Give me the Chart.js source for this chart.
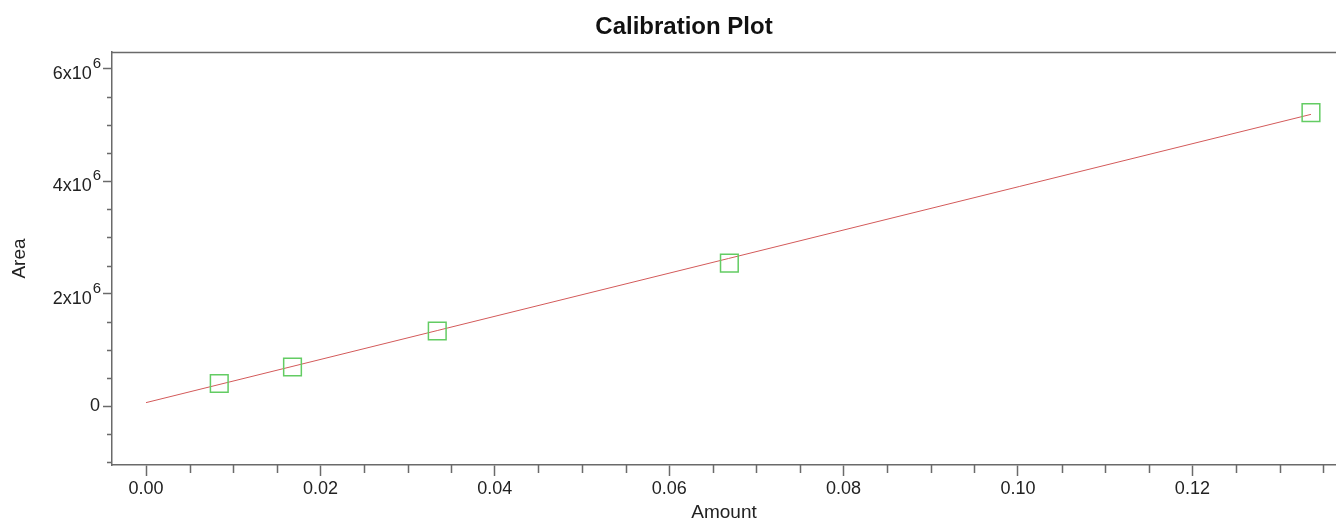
<!DOCTYPE html>
<html><head><meta charset="utf-8">
<script src="https://cdn.jsdelivr.net/npm/chart.js@4"></script>
<style>html,body{margin:0;padding:0;background:#fff}#wrap{width:1336px;height:520px;position:relative}</style>
</head><body><div id="wrap"><canvas id="c"></canvas></div>
<script>
// ---- data ----
const amounts = [0.0084, 0.0168, 0.0334, 0.0669, 0.1336];
const areas = [0.400e6, 0.694e6, 1.335e6, 2.544e6, 5.222e6];
const fitAmounts = [0, 0.1336];
const fitAreas = [0.06e6, 5.19e6];
const xTickValues = [0, 0.02, 0.04, 0.06, 0.08, 0.10, 0.12];
const xTickLabels = ['0.00', '0.02', '0.04', '0.06', '0.08', '0.10', '0.12'];
const yTickValues = [0, 2e6, 4e6, 6e6];
const yTickBase = ['0', '2x10', '4x10', '6x10'];
const yTickExp = ['', '6', '6', '6'];
const xMinorStep = 0.005;
const yMinorStep = 0.5e6;
const titleText = 'Calibration Plot';
const xTitle = 'Amount';
const yTitle = 'Area';

const FONT = "'Liberation Sans', Arial, sans-serif";
const AXIS = '#6a6a6a';
const TEXT = '#222';

const extras = {
  id: 'extras',
  afterDraw(chart) {
    const ctx = chart.ctx, a = chart.chartArea;
    const xs = chart.scales.x, ys = chart.scales.y;
    ctx.save();
    ctx.strokeStyle = AXIS;
    ctx.lineWidth = 1.5;
    // top frame line
    ctx.beginPath();
    ctx.moveTo(a.left, a.top + 0.5);
    ctx.lineTo(a.right, a.top + 0.5);
    ctx.stroke();
    // minor ticks x
    ctx.beginPath();
    for (let i = Math.ceil(xs.min / xMinorStep); i * xMinorStep <= xs.max + 1e-12; i++) {
      if (i % 4 === 0) continue;
      const px = Math.round(xs.getPixelForValue(i * xMinorStep)) + 0.5;
      ctx.moveTo(px, a.bottom);
      ctx.lineTo(px, a.bottom + 8);
    }
    // minor ticks y
    for (let i = Math.ceil(ys.min / yMinorStep); i * yMinorStep <= ys.max + 1; i++) {
      if (i % 4 === 0) continue;
      const py = Math.round(ys.getPixelForValue(i * yMinorStep)) + 0.5;
      ctx.moveTo(a.left, py);
      ctx.lineTo(a.left - 5, py);
    }
    ctx.stroke();
    // y tick labels with superscript exponent
    ctx.fillStyle = TEXT;
    ctx.textAlign = 'right';
    yTickValues.forEach((v, i) => {
      const py = ys.getPixelForValue(v);
      const right = a.left - 11;
      if (yTickExp[i]) {
        ctx.font = '15px ' + FONT;
        ctx.textBaseline = 'alphabetic';
        const w = ctx.measureText(yTickExp[i]).width;
        ctx.fillText(yTickExp[i], right, py - 1);
        ctx.font = '18px ' + FONT;
        ctx.fillText(yTickBase[i], right - w - 1, py + 10);
      } else {
        ctx.font = '18px ' + FONT;
        ctx.textBaseline = 'middle';
        ctx.fillText(yTickBase[i], a.left - 12, py);
      }
    });
    // title
    ctx.fillStyle = '#111';
    ctx.font = 'bold 24px ' + FONT;
    ctx.textAlign = 'center';
    ctx.textBaseline = 'middle';
    ctx.fillText(titleText, 684, 27);
    ctx.restore();
  }
};

new Chart(document.getElementById('c'), {
  type: 'scatter',
  data: {
    datasets: [
      {
        type: 'line',
        label: 'fit',
        data: fitAmounts.map((x, i) => ({x, y: fitAreas[i]})),
        borderColor: '#d35a5a',
        borderWidth: 1,
        pointRadius: 0,
        fill: false,
        order: 2
      },
      {
        label: 'standards',
        data: amounts.map((x, i) => ({x, y: areas[i]})),
        pointStyle: 'rect',
        pointRadius: 12.5,
        pointHoverRadius: 12.5,
        borderColor: '#63cc63',
        backgroundColor: 'rgba(0,0,0,0)',
        borderWidth: 1.5,
        order: 1
      }
    ]
  },
  options: {
    responsive: true,
    maintainAspectRatio: false,
    animation: false,
    layout: { autoPadding: false, padding: { top: 52, left: 0, right: 0, bottom: 0 } },
    plugins: { legend: { display: false }, tooltip: { enabled: false }, title: { display: false } },
    scales: {
      x: {
        type: 'linear',
        min: -0.0039,
        max: 0.13647,
        afterBuildTicks: s => { s.ticks = xTickValues.map(v => ({value: v})); },
        afterFit: s => { s.height = 55; },
        ticks: {
          includeBounds: false,
          autoSkip: false,
          maxRotation: 0,
          padding: 2,
          color: TEXT,
          font: { family: FONT, size: 18 },
          callback: (v, i) => xTickLabels[i]
        },
        grid: { drawOnChartArea: false, drawTicks: true, tickLength: 11, tickColor: AXIS, tickWidth: 1.5 },
        border: { display: true, color: AXIS, width: 1.5 },
        title: { display: true, text: xTitle, color: TEXT, font: { family: FONT, size: 19, lineHeight: 1 }, padding: { top: 0, bottom: -2 } }
      },
      y: {
        type: 'linear',
        min: -1.05e6,
        max: 6.3e6,
        afterBuildTicks: s => { s.ticks = yTickValues.map(v => ({value: v})); },
        afterFit: s => { s.width = 112; },
        ticks: {
          display: false,
          includeBounds: false,
          autoSkip: false
        },
        grid: { drawOnChartArea: false, drawTicks: true, tickLength: 9, tickColor: AXIS, tickWidth: 1.5 },
        border: { display: true, color: AXIS, width: 1.5 },
        title: { display: true, text: yTitle, color: TEXT, font: { family: FONT, size: 19, lineHeight: 1 }, padding: { top: 10, bottom: 0 } }
      }
    }
  },
  plugins: [extras]
});
</script>
</body></html>
